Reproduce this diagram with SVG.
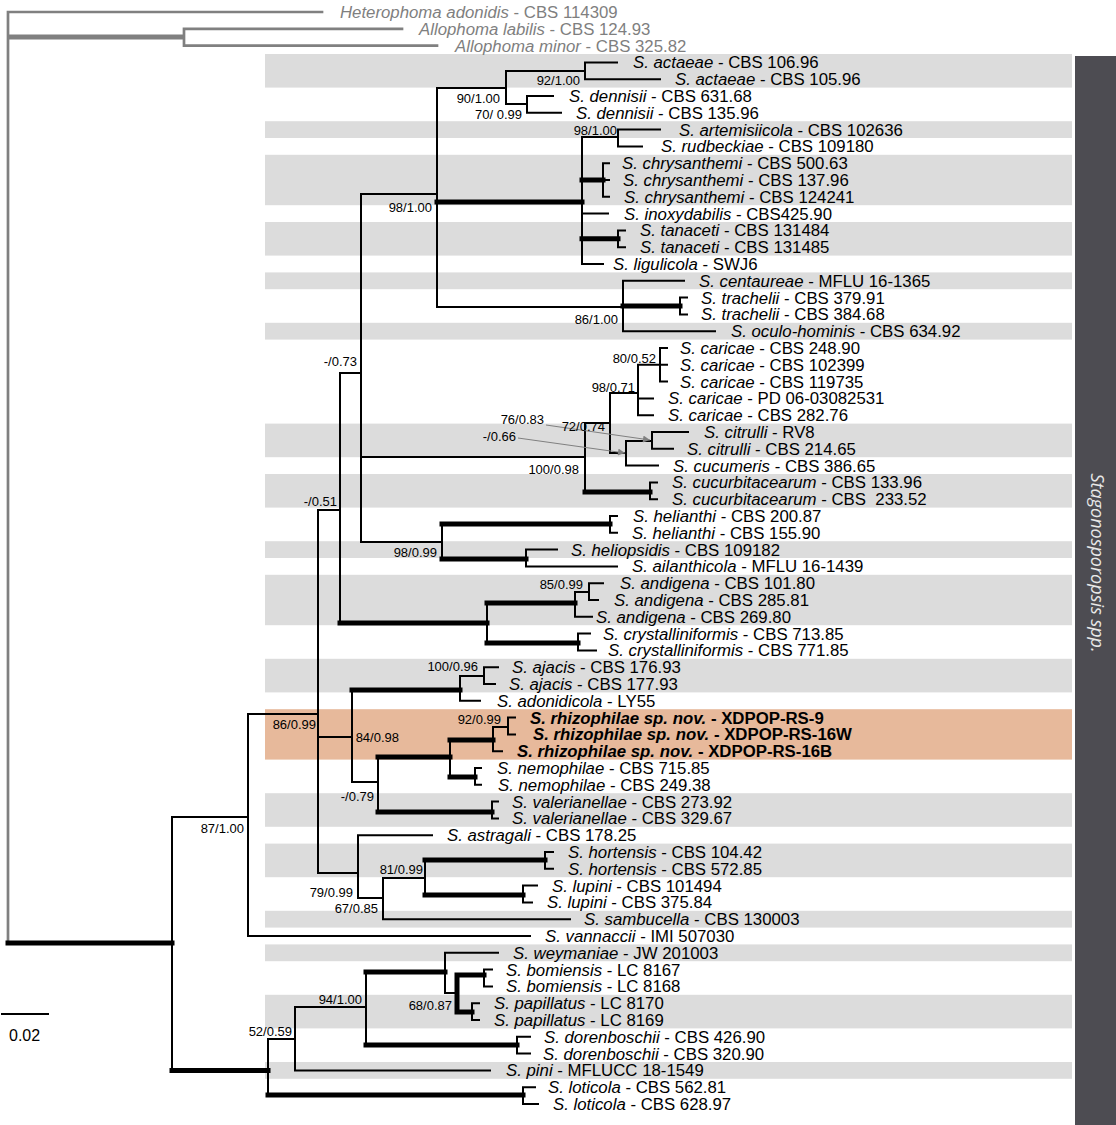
<svg xmlns="http://www.w3.org/2000/svg" width="1116" height="1125" viewBox="0 0 1116 1125">
<style>
text{font-family:"Liberation Sans",Arial,sans-serif;font-size:16.8px;fill:#000}
.i{font-style:italic}
.og{fill:#7f7f7f}
.b{font-weight:bold}
.s{font-size:13px}
.band{fill:#dcdcdc}
.t{stroke:#000;stroke-width:2;fill:none;stroke-linecap:square}
.k{stroke:#000;stroke-width:5;fill:none;stroke-linecap:square}
.gt{stroke:#808080;stroke-width:2.7;fill:none;stroke-linecap:square}
.gk{stroke:#808080;stroke-width:5;fill:none}
.ar{stroke:#808080;stroke-width:1;fill:none}
</style>
<defs>
<marker id="ah" viewBox="0 0 10 10" refX="10" refY="5" markerWidth="9" markerHeight="7" orient="auto" markerUnits="userSpaceOnUse">
<path d="M0,0 L10,5 L0,10 z" fill="#808080"/>
</marker>
</defs>
<rect width="1116" height="1125" fill="#fff"/>
<g id="bands">
<rect class="band" x="265" y="54" width="807" height="33.6"/>
<rect class="band" x="265" y="121.2" width="807" height="16.8"/>
<rect class="band" x="265" y="154.8" width="807" height="50.4"/>
<rect class="band" x="265" y="222" width="807" height="33.6"/>
<rect class="band" x="265" y="272.4" width="807" height="16.8"/>
<rect class="band" x="265" y="322.8" width="807" height="16.8"/>
<rect class="band" x="265" y="423.6" width="807" height="33.6"/>
<rect class="band" x="265" y="474" width="807" height="33.6"/>
<rect class="band" x="265" y="541.2" width="807" height="16.8"/>
<rect class="band" x="265" y="574.8" width="807" height="50.4"/>
<rect class="band" x="265" y="658.8" width="807" height="33.6"/>
<rect x="265" y="709.2" width="807" height="50.4" fill="#e7b99b"/>
<rect class="band" x="265" y="793.2" width="807" height="33.6"/>
<rect class="band" x="265" y="843.6" width="807" height="33.6"/>
<rect class="band" x="265" y="910.8" width="807" height="16.8"/>
<rect class="band" x="265" y="944.4" width="807" height="16.8"/>
<rect class="band" x="265" y="994.8" width="807" height="33.6"/>
<rect class="band" x="265" y="1062" width="807" height="16.8"/>
</g>
<g id="genus-bar">
<rect x="1075" y="56" width="41" height="1069" fill="#4d4c52"/>
<text transform="translate(1091,563) rotate(90)" text-anchor="middle" style="font-family:'Open Sans','DejaVu Sans',sans-serif;font-style:italic;font-size:18px;fill:#e8e8e8">Stagonosporopsis spp.</text>
</g>
<g id="connectors">
<path class="gt" d="M8,12 H322 M8,12 V943 M184,28.8 V45.6 M184,28.8 H402 M184,45.6 H437"/>
<path class="gk" d="M8,37 H184"/>
<path class="k" d="M8,943 H172"/>
<path class="t" d="M172,817 V1070.4 M172,817 H248 M248,714 V936 M248,936 H530 M248,714 H318"/>
<path class="t" d="M318,510 V873 M318,510 H340 M318,737 H352 M318,873 H358"/>
<path class="t" d="M340,373 V623 M340,373 H361"/>
<path class="k" d="M340,623 H487"/>
<path class="t" d="M361,194 V542 M361,194 H437 M361,457 H585 M361,542 H442"/>
<path class="t" d="M437,88 V307 M437,88 H506 M437,307 H623"/>
<path class="k" d="M437,202 H582"/>
<path class="t" d="M506,71 V104 M506,71 H585 M506,104 H527 M585,62.4 V79.2 M585,62.4 H617 M585,79.2 H660 M527,96 V112.8 M527,96 H553 M527,112.8 H561"/>
<path class="t" d="M582,137 V264 M582,137 H618 M582,213.6 H608 M582,264 H603 M618,129.6 V146.4 M618,129.6 H660 M618,146.4 H642 M603,163.2 V196.8 M603,163.2 H609 M603,180 H609 M603,196.8 H609 M618,230.4 V247.2 M618,230.4 H625 M618,247.2 H625"/>
<path class="k" d="M582,180 H603 M582,238.8 H618"/>
<path class="t" d="M623,280.8 V331.2 M623,280.8 H684 M623,331.2 H715 M680,297.6 V314.4 M680,297.6 H687 M680,314.4 H687"/>
<path class="k" d="M623,306 H680"/>
<path class="t" d="M585,423 V492 M585,423 H610 M610,393 V453 M610,393 H638 M610,453 H626 M638,364.8 V415.2 M638,364.8 H660 M638,398.4 H653 M638,415.2 H653 M660,348 V381.6 M660,348 H667 M660,364.8 H667 M660,381.6 H667 M626,441 V465.6 M626,441 H652 M626,465.6 H658 M652,432 V448.8 M652,432 H688 M652,448.8 H673 M650,482.4 V499.2 M650,482.4 H657 M650,499.2 H657"/>
<path class="k" d="M585,492 H650"/>
<path class="t" d="M442,524 V559 M610,516 V532.8 M610,516 H617 M610,532.8 H617 M526,549.6 V566.4 M526,549.6 H557 M526,566.4 H617"/>
<path class="k" d="M442,524 H610 M442,559 H526"/>
<path class="t" d="M487,603 V643 M575,592 V616.8 M575,592 H589 M575,616.8 H592 M589,583.2 V600 M589,583.2 H603 M589,600 H598 M578,633.6 V650.4 M578,633.6 H590 M578,650.4 H596"/>
<path class="k" d="M487,603 H575 M487,643 H578"/>
<path class="t" d="M352,690 V782 M352,782 H378 M460,676 V700.8 M460,676 H484 M460,700.8 H480 M484,667.2 V684 M484,667.2 H498 M484,684 H495"/>
<path class="k" d="M352,690 H460"/>
<path class="t" d="M378,757 V812 M450,740 V777 M493,727 V751.2 M493,727 H508 M493,751.2 H502 M508,717.6 V734.4 M508,717.6 H515 M508,734.4 H515 M475,768 V784.8 M475,768 H481 M475,784.8 H481 M492,801.6 V818.4 M492,801.6 H498 M492,818.4 H498"/>
<path class="k" d="M378,757 H450 M378,812 H492 M450,740 H493 M450,777 H475"/>
<path class="t" d="M358,835.2 V898 M358,835.2 H432 M358,898 H383 M383,878 V919.2 M383,878 H425 M383,919.2 H570 M425,860 V895 M545,852 V868.8 M545,852 H553 M545,868.8 H553 M523,885.6 V902.4 M523,885.6 H537 M523,902.4 H532"/>
<path class="k" d="M425,860 H545 M425,895 H523"/>
<path class="k" d="M172,1070.4 H268 M268,1095 H523 M366,972 H445 M366,1045 H517 M457,975 V1012 M457,975 H484 M457,1012 H472"/>
<path class="t" d="M268,1039 V1095 M268,1039 H295 M523,1087.2 V1104 M523,1087.2 H535 M523,1104 H538 M295,1007 V1070.4 M295,1007 H366 M295,1070.4 H490 M366,972 V1045 M517,1036.8 V1053.6 M517,1036.8 H530 M517,1053.6 H530 M445,952.8 V993 M445,952.8 H498 M445,993 H457 M484,969.6 V986.4 M484,969.6 H492 M484,986.4 H492 M472,1003.2 V1020 M472,1003.2 H479 M472,1020 H479"/>
<path class="ar" d="M546,425 L650,440" marker-end="url(#ah)"/>
<path class="ar" d="M518,438 L625,453" marker-end="url(#ah)"/>
<path class="t" d="M2,1014 H48"/>
</g>
<g id="taxa">
<g id="t1"><text x="340" y="18" class="og"><tspan class="i">Heterophoma adonidis</tspan> - CBS 114309</text></g>
<g id="t2"><text x="419" y="34.8" class="og"><tspan class="i">Allophoma labilis</tspan> - CBS 124.93</text></g>
<g id="t3"><text x="455" y="51.6" class="og"><tspan class="i">Allophoma minor</tspan> - CBS 325.82</text></g>
<g id="t4"><text x="633" y="68.4"><tspan class="i">S. actaeae</tspan> - CBS 106.96</text></g>
<g id="t5"><text x="675" y="85.2"><tspan class="i">S. actaeae</tspan> - CBS 105.96</text></g>
<g id="t6"><text x="569" y="102"><tspan class="i">S. dennisii</tspan> - CBS 631.68</text></g>
<g id="t7"><text x="576" y="118.8"><tspan class="i">S. dennisii</tspan> - CBS 135.96</text></g>
<g id="t8"><text x="679" y="135.6"><tspan class="i">S. artemisiicola</tspan> - CBS 102636</text></g>
<g id="t9"><text x="661" y="152.4"><tspan class="i">S. rudbeckiae</tspan> - CBS 109180</text></g>
<g id="t10"><text x="622" y="169.2"><tspan class="i">S. chrysanthemi</tspan> - CBS 500.63</text></g>
<g id="t11"><text x="623" y="186"><tspan class="i">S. chrysanthemi</tspan> - CBS 137.96</text></g>
<g id="t12"><text x="624" y="202.8"><tspan class="i">S. chrysanthemi</tspan> - CBS 124241</text></g>
<g id="t13"><text x="624" y="219.6"><tspan class="i">S. inoxydabilis</tspan> - CBS425.90</text></g>
<g id="t14"><text x="640" y="236.4"><tspan class="i">S. tanaceti</tspan> - CBS 131484</text></g>
<g id="t15"><text x="640" y="253.2"><tspan class="i">S. tanaceti</tspan> - CBS 131485</text></g>
<g id="t16"><text x="613" y="270"><tspan class="i">S. ligulicola</tspan> - SWJ6</text></g>
<g id="t17"><text x="699" y="286.8"><tspan class="i">S. centaureae</tspan> - MFLU 16-1365</text></g>
<g id="t18"><text x="701" y="303.6"><tspan class="i">S. trachelii</tspan> - CBS 379.91</text></g>
<g id="t19"><text x="701" y="320.4"><tspan class="i">S. trachelii</tspan> - CBS 384.68</text></g>
<g id="t20"><text x="731" y="337.2"><tspan class="i">S. oculo-hominis</tspan> - CBS 634.92</text></g>
<g id="t21"><text x="680" y="354"><tspan class="i">S. caricae</tspan> - CBS 248.90</text></g>
<g id="t22"><text x="680" y="370.8"><tspan class="i">S. caricae</tspan> - CBS 102399</text></g>
<g id="t23"><text x="680" y="387.6"><tspan class="i">S. caricae</tspan> - CBS 119735</text></g>
<g id="t24"><text x="668" y="404.4"><tspan class="i">S. caricae</tspan> - PD 06-03082531</text></g>
<g id="t25"><text x="668" y="421.2"><tspan class="i">S. caricae</tspan> - CBS 282.76</text></g>
<g id="t26"><text x="704" y="438"><tspan class="i">S. citrulli</tspan> - RV8</text></g>
<g id="t27"><text x="687" y="454.8"><tspan class="i">S. citrulli</tspan> - CBS 214.65</text></g>
<g id="t28"><text x="673" y="471.6"><tspan class="i">S. cucumeris</tspan> - CBS 386.65</text></g>
<g id="t29"><text x="672" y="488.4"><tspan class="i">S. cucurbitacearum</tspan> - CBS 133.96</text></g>
<g id="t30"><text x="672" y="505.2"><tspan class="i">S. cucurbitacearum</tspan> - CBS &#160;233.52</text></g>
<g id="t31"><text x="633" y="522"><tspan class="i">S. helianthi</tspan> - CBS 200.87</text></g>
<g id="t32"><text x="632" y="538.8"><tspan class="i">S. helianthi</tspan> - CBS 155.90</text></g>
<g id="t33"><text x="571" y="555.6"><tspan class="i">S. heliopsidis</tspan> - CBS 109182</text></g>
<g id="t34"><text x="632" y="572.4"><tspan class="i">S. ailanthicola</tspan> - MFLU 16-1439</text></g>
<g id="t35"><text x="620" y="589.2"><tspan class="i">S. andigena</tspan> - CBS 101.80</text></g>
<g id="t36"><text x="614" y="606"><tspan class="i">S. andigena</tspan> - CBS 285.81</text></g>
<g id="t37"><text x="596" y="622.8"><tspan class="i">S. andigena</tspan> - CBS 269.80</text></g>
<g id="t38"><text x="603" y="639.6"><tspan class="i">S. crystalliniformis</tspan> - CBS 713.85</text></g>
<g id="t39"><text x="608" y="656.4"><tspan class="i">S. crystalliniformis</tspan> - CBS 771.85</text></g>
<g id="t40"><text x="512" y="673.2"><tspan class="i">S. ajacis</tspan> - CBS 176.93</text></g>
<g id="t41"><text x="509" y="690"><tspan class="i">S. ajacis</tspan> - CBS 177.93</text></g>
<g id="t42"><text x="497" y="706.8"><tspan class="i">S. adonidicola</tspan> - LY55</text></g>
<g id="t43"><text x="530" y="723.6" class="b"><tspan class="i">S. rhizophilae sp. nov.</tspan> - XDPOP-RS-9</text></g>
<g id="t44"><text x="533" y="740.4" class="b"><tspan class="i">S. rhizophilae sp. nov.</tspan> - XDPOP-RS-16W</text></g>
<g id="t45"><text x="517" y="757.2" class="b"><tspan class="i">S. rhizophilae sp. nov.</tspan> - XDPOP-RS-16B</text></g>
<g id="t46"><text x="497" y="774"><tspan class="i">S. nemophilae</tspan> - CBS 715.85</text></g>
<g id="t47"><text x="498" y="790.8"><tspan class="i">S. nemophilae</tspan> - CBS 249.38</text></g>
<g id="t48"><text x="512" y="807.6"><tspan class="i">S. valerianellae</tspan> - CBS 273.92</text></g>
<g id="t49"><text x="512" y="824.4"><tspan class="i">S. valerianellae</tspan> - CBS 329.67</text></g>
<g id="t50"><text x="447" y="841.2"><tspan class="i">S. astragali</tspan> - CBS 178.25</text></g>
<g id="t51"><text x="568" y="858"><tspan class="i">S. hortensis</tspan> - CBS 104.42</text></g>
<g id="t52"><text x="568" y="874.8"><tspan class="i">S. hortensis</tspan> - CBS 572.85</text></g>
<g id="t53"><text x="552" y="891.6"><tspan class="i">S. lupini</tspan> - CBS 101494</text></g>
<g id="t54"><text x="547" y="908.4"><tspan class="i">S. lupini</tspan> - CBS 375.84</text></g>
<g id="t55"><text x="584" y="925.2"><tspan class="i">S. sambucella</tspan> - CBS 130003</text></g>
<g id="t56"><text x="545" y="942"><tspan class="i">S. vannaccii</tspan> - IMI 507030</text></g>
<g id="t57"><text x="513" y="958.8"><tspan class="i">S. weymaniae</tspan> - JW 201003</text></g>
<g id="t58"><text x="506" y="975.6"><tspan class="i">S. bomiensis</tspan> - LC 8167</text></g>
<g id="t59"><text x="506" y="992.4"><tspan class="i">S. bomiensis</tspan> - LC 8168</text></g>
<g id="t60"><text x="494" y="1009.2"><tspan class="i">S. papillatus</tspan> - LC 8170</text></g>
<g id="t61"><text x="494" y="1026"><tspan class="i">S. papillatus</tspan> - LC 8169</text></g>
<g id="t62"><text x="544" y="1042.8"><tspan class="i">S. dorenboschii</tspan> - CBS 426.90</text></g>
<g id="t63"><text x="543" y="1059.6"><tspan class="i">S. dorenboschii</tspan> - CBS 320.90</text></g>
<g id="t64"><text x="506" y="1076.4"><tspan class="i">S. pini</tspan> - MFLUCC 18-1549</text></g>
<g id="t65"><text x="548" y="1093.2"><tspan class="i">S. loticola</tspan> - CBS 562.81</text></g>
<g id="t66"><text x="553" y="1110"><tspan class="i">S. loticola</tspan> - CBS 628.97</text></g>
</g>
<g id="support" text-anchor="end">
<text class="s" x="580" y="85">92/1.00</text>
<text class="s" x="500" y="103">90/1.00</text>
<text class="s" x="522" y="119">70/ 0.99</text>
<text class="s" x="617" y="135">98/1.00</text>
<text class="s" x="432" y="212">98/1.00</text>
<text class="s" x="618" y="324">86/1.00</text>
<text class="s" x="656" y="363">80/0.52</text>
<text class="s" x="635" y="392">98/0.71</text>
<text class="s" x="544" y="424">76/0.83</text>
<text class="s" x="605" y="431">72/0.74</text>
<text class="s" x="516" y="441">-/0.66</text>
<text class="s" x="579" y="474">100/0.98</text>
<text class="s" x="357" y="366">-/0.73</text>
<text class="s" x="337" y="506">-/0.51</text>
<text class="s" x="437" y="557">98/0.99</text>
<text class="s" x="583" y="589">85/0.99</text>
<text class="s" x="478" y="671">100/0.96</text>
<text class="s" x="316" y="729">86/0.99</text>
<text class="s" x="399" y="742">84/0.98</text>
<text class="s" x="501" y="724">92/0.99</text>
<text class="s" x="374" y="801">-/0.79</text>
<text class="s" x="423" y="874">81/0.99</text>
<text class="s" x="353" y="897">79/0.99</text>
<text class="s" x="378" y="913">67/0.85</text>
<text class="s" x="244" y="833">87/1.00</text>
<text class="s" x="362" y="1004">94/1.00</text>
<text class="s" x="452" y="1010">68/0.87</text>
<text class="s" x="292" y="1036">52/0.59</text>
</g>
<g id="scale">
<text x="9" y="1041" style="font-size:16px">0.02</text>
</g>
</svg>
